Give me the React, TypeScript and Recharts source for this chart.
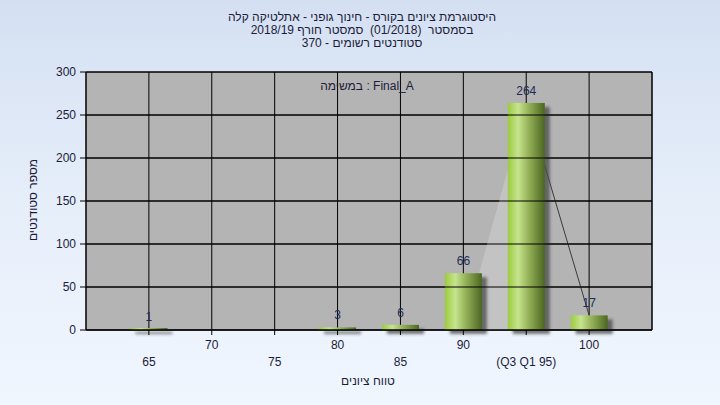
import {
  ComposedChart,
  Bar,
  Area,
  Line,
  XAxis,
  YAxis,
  CartesianGrid,
  LabelList,
} from 'recharts'

const grades = [65, 70, 75, 80, 85, 90, 95, 100]
const counts = [1, 0, 0, 3, 6, 66, 264, 17]
const tickLabels = ['65', '70', '75', '80', '85', '90', '(Q3 Q1 95)', '100']
// light shading rising into the 95 bar, and the line from 95 down to 100
const shade = [null, null, null, null, null, 0, 264, null]
const trend = [null, null, null, null, null, null, 264, 17]
const yTicks = [0, 50, 100, 150, 200, 250, 300]

const titleLines = [
  'היסטוגרמת ציונים בקורס - חינוך גופני - אתלטיקה קלה',
  'בסמסטר  (01/2018)  סמסטר חורף 2018/19',
  'סטודנטים רשומים - 370',
]

const data = grades.map((g, i) => ({
  grade: g,
  count: counts[i],
  shade: shade[i],
  trend: trend[i],
}))

const W = 720
const H = 405
const LEFT_W = 86
const RIGHT_W = 68
const FONT = '"Liberation Sans", Arial, sans-serif'
const TEXT = '#1c1c3a'

function GradeTick(props: any) {
  const { x, y, payload } = props
  const i = grades.indexOf(payload.value)
  const upper = i % 2 === 1
  return (
    <text
      x={x}
      y={y + (upper ? 14 : 31)}
      textAnchor="middle"
      fontSize={12}
      fontFamily={FONT}
      fill={TEXT}
    >
      {tickLabels[i]}
    </text>
  )
}

// left value tick: label plus the horizontal grid row across the plot
function ValueTick(props: any) {
  const { x, y, payload } = props
  return (
    <g>
      <line x1={LEFT_W} x2={W - RIGHT_W} y1={y} y2={y} stroke="#000" strokeWidth={1} />
      <text
        x={x}
        y={y}
        dy="0.355em"
        textAnchor="end"
        fontSize={12}
        fontFamily={FONT}
        fill={TEXT}
      >
        {payload.value}
      </text>
    </g>
  )
}

function CylinderBar(props: any) {
  const { x, y, width, height, index } = props
  if (!height || height <= 0) return null
  const h = Math.max(height, 2)
  const top = y + height - h
  const gid = `barGrad${index}`
  const fid = `barShadow${index}`
  return (
    <g>
      <defs>
        <linearGradient id={gid} x1="0" y1="0" x2="1" y2="0">
          <stop offset="0%" stopColor="#9ccb3e" />
          <stop offset="28%" stopColor="#c6e48e" />
          <stop offset="55%" stopColor="#97b45a" />
          <stop offset="100%" stopColor="#4b6621" />
        </linearGradient>
        <filter id={fid} filterUnits="userSpaceOnUse" x="0" y="0" width={W} height={H}>
          <feDropShadow dx="5" dy="4" stdDeviation="1.6" floodColor="#4a4a4a" floodOpacity="0.75" />
        </filter>
      </defs>
      <rect x={x} y={top} width={width} height={h} fill={`url(#${gid})`} filter={`url(#${fid})`} />
    </g>
  )
}

function CountLabel(props: any) {
  const { x, y, width, value } = props
  if (!value) return null
  return (
    <text
      x={x + width / 2}
      y={y - 8}
      textAnchor="middle"
      fontSize={12}
      fontFamily={FONT}
      fill="#1e2a55"
    >
      {value}
    </text>
  )
}

const abs = (x: number, y: number, w: number): React.CSSProperties => ({
  position: 'absolute',
  left: x - w / 2,
  top: y - 8,
  width: w,
  textAlign: 'center',
  fontSize: 12,
  lineHeight: '16px',
  fontFamily: FONT,
  color: TEXT,
  whiteSpace: 'pre',
})

export default function App() {
  return (
    <div
      style={{
        position: 'absolute',
        left: 0,
        top: 0,
        width: W,
        height: H,
        background: 'linear-gradient(to bottom, #d4e0f2 0%, #e6eefa 50%, #f0f6fe 100%)',
        overflow: 'hidden',
      }}
    >
      {titleLines.map((t, i) => (
        <div key={i} dir="rtl" style={abs(362, 17 + i * 13, 400)}>
          {t}
        </div>
      ))}
      <ComposedChart
        width={W}
        height={H}
        data={data}
        margin={{ top: 72, right: 0, bottom: 0, left: 0 }}
        style={{ position: 'absolute', left: 0, top: 0 }}
      >
        <CartesianGrid fill="#b4b4b4" stroke="#000" strokeOpacity={1} />
        <XAxis
          dataKey="grade"
          type="number"
          domain={[60, 105]}
          ticks={grades}
          interval={0}
          height={75}
          tickSize={5}
          tickMargin={0}
          stroke="#000"
          tick={<GradeTick />}
        />
        <YAxis
          type="number"
          domain={[0, 300]}
          ticks={yTicks}
          interval={0}
          width={LEFT_W}
          tickSize={6}
          tickMargin={4}
          stroke="#000"
          tick={<ValueTick />}
          zIndex={50}
        />
        <YAxis
          yAxisId="right"
          type="number"
          orientation="right"
          domain={[0, 300]}
          ticks={yTicks}
          interval={0}
          width={RIGHT_W}
          tickSize={6}
          tickMargin={1}
          stroke="#000"
          tick={{ fontSize: 12, fontFamily: FONT, fill: TEXT, textAnchor: 'start' }}
        />
        <Area
          dataKey="shade"
          type="linear"
          fill="#c3c3c3"
          fillOpacity={1}
          stroke="none"
          isAnimationActive={false}
          zIndex={100}
        />
        <Line
          dataKey="trend"
          type="linear"
          stroke="#3a3a3a"
          strokeWidth={1}
          dot={false}
          activeDot={false}
          isAnimationActive={false}
          zIndex={150}
        />
        <Bar
          dataKey="count"
          barSize={37}
          shape={<CylinderBar />}
          isAnimationActive={false}
          zIndex={300}
        >
          <LabelList dataKey="count" content={<CountLabel />} />
        </Bar>
      </ComposedChart>
      <div style={{ ...abs(367, 86, 200) }}>{'במשימה : Final_A'}</div>
      <div
        dir="rtl"
        style={{
          ...abs(33, 200, 120),
          transform: 'rotate(-90deg)',
        }}
      >
        מספר סטודנטים
      </div>
      <div dir="rtl" style={abs(368, 381, 120)}>
        טווח ציונים
      </div>
    </div>
  )
}
